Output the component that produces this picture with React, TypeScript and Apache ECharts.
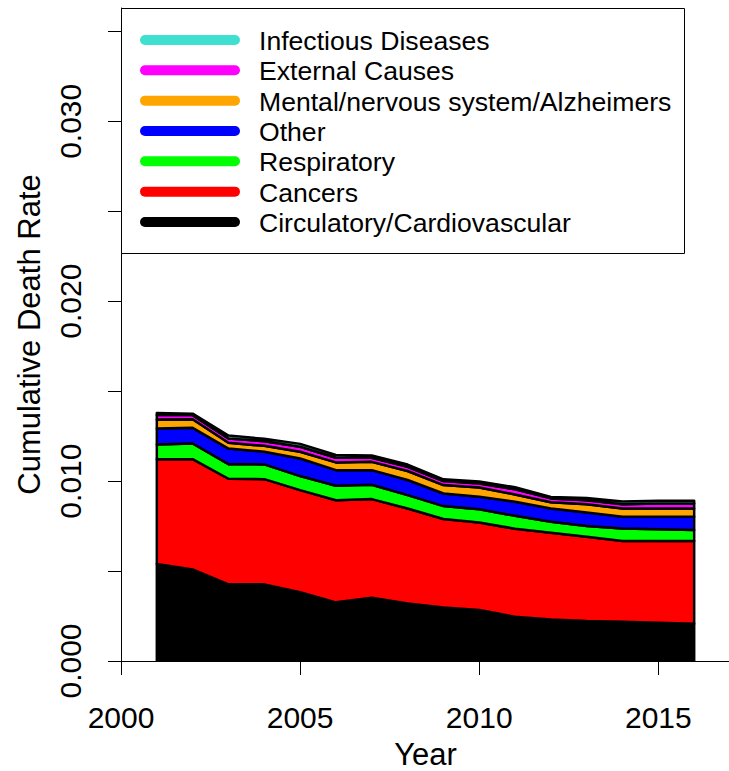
import React, { useEffect, useRef } from "react";
import * as echarts from "echarts";

const years = [2001, 2002, 2003, 2004, 2005, 2006, 2007, 2008, 2009, 2010, 2011, 2012, 2013, 2014, 2015, 2016];

// layer values, bottom to top
const circulatory = [0.00539, 0.00509, 0.00426, 0.00426, 0.00382, 0.00326, 0.00352, 0.0032, 0.00298, 0.00283, 0.00246, 0.00231, 0.00222, 0.00218, 0.00213, 0.00207];
const cancers = [0.00582, 0.00613, 0.00587, 0.00585, 0.00568, 0.00568, 0.00548, 0.00528, 0.00491, 0.00487, 0.00489, 0.00482, 0.00469, 0.00449, 0.00454, 0.0046];
const respiratory = [0.00083, 0.00087, 0.00081, 0.00082, 0.00078, 0.0008, 0.0008, 0.00074, 0.00072, 0.00073, 0.00072, 0.00061, 0.00059, 0.0007, 0.00066, 0.00061];
const other = [0.00089, 0.00087, 0.00087, 0.0007, 0.00098, 0.00087, 0.00081, 0.00084, 0.0007, 0.0007, 0.00078, 0.00074, 0.00076, 0.00065, 0.00069, 0.00074];
const mental = [0.0005, 0.00048, 0.00032, 0.00033, 0.00037, 0.00043, 0.00046, 0.0005, 0.00047, 0.00052, 0.00041, 0.00034, 0.00045, 0.00046, 0.00046, 0.00046];
const external = [0.00024, 0.00023, 0.00024, 0.00026, 0.00028, 0.00026, 0.00023, 0.00024, 0.00022, 0.00022, 0.00028, 0.00022, 0.00023, 0.00024, 0.00028, 0.00028];
const infectious = [0.00012, 0.00008, 0.00016, 0.00013, 0.00016, 0.00015, 0.00012, 0.00012, 0.0001, 0.00011, 0.00012, 0.00008, 0.00012, 0.00014, 0.00015, 0.00015];

const layerNames = [
  "Circulatory/Cardiovascular",
  "Cancers",
  "Respiratory",
  "Other",
  "Mental/nervous system/Alzheimers",
  "External Causes",
  "Infectious Diseases",
];
const layerColors = ["#000000", "#ff0000", "#00ff00", "#0000ff", "#ffa500", "#ff00ff", "#40e0d0"];
const layerValues = [circulatory, cancers, respiratory, other, mental, external, infectious];

const xTickValues = [2000, 2005, 2010, 2015];
const yTickValues = [0, 0.005, 0.01, 0.015, 0.02, 0.025, 0.03, 0.035];
const yLabelValues = [0, 0.01, 0.02, 0.03];

const FONT = "Liberation Sans, Arial, Helvetica, sans-serif";
const FS = 26.6;
const FS_AXIS = 30;
const FS_NAME = 31;

export default function App() {
  const ref = useRef<HTMLDivElement>(null);

  useEffect(() => {
    document.body.style.margin = "0";
    if (!ref.current) return;
    const chart = echarts.init(ref.current, undefined, { renderer: "svg" });

    // cumulative bounds
    const lowers: number[][] = [];
    const uppers: number[][] = [];
    let base = years.map(() => 0);
    layerValues.forEach((vals) => {
      const up = base.map((b, i) => b + vals[i]);
      lowers.push(base);
      uppers.push(up);
      base = up;
    });

    const series: any[] = layerNames.map((name, li) => ({
      type: "custom",
      name,
      clip: true,
      z: 2,
      itemStyle: { color: layerColors[li] },
      encode: { x: 0, y: 1 },
      data: [[years[0], 0]],
      renderItem: (_params: any, api: any) => {
        const pts: number[][] = [];
        years.forEach((y, i) => pts.push(api.coord([y, uppers[li][i]])));
        for (let i = years.length - 1; i >= 0; i--) pts.push(api.coord([years[i], lowers[li][i]]));
        return {
          type: "polygon",
          shape: { points: pts },
          style: { fill: layerColors[li], stroke: "#000", lineWidth: 2.5, lineJoin: "round" },
        };
      },
    }));

    // legend (top to bottom: reverse order)
    const legendOrder = layerNames.map((_, i) => layerNames.length - 1 - i);
    const legendEls: any[] = [
      {
        type: "rect",
        shape: { x: 121.5, y: 8.5, width: 563, height: 245 },
        style: { fill: "#fff", stroke: "#000", lineWidth: 1 },
        z: 10,
      },
    ];
    legendOrder.forEach((li, row) => {
      const yc = 40 + row * 30.33;
      legendEls.push({
        type: "line",
        shape: { x1: 145, y1: yc, x2: 235, y2: yc },
        style: { stroke: layerColors[li], lineWidth: 10, lineCap: "round" },
        z: 11,
      });
      legendEls.push({
        type: "text",
        x: 259,
        y: yc + 1,
        style: {
          text: layerNames[li],
          fill: "#000",
          font: `${FS}px ${FONT}`,
          verticalAlign: "middle",
          align: "left",
        },
        z: 11,
      });
    });

    chart.setOption({
      animation: false,
      backgroundColor: "#fff",
      grid: { left: 121, top: 8, width: 609, height: 653, containLabel: false, outerBoundsMode: "none" },
      xAxis: {
        type: "value",
        min: 2000,
        max: 2017,
        interval: 5,
        name: "Year",
        nameLocation: "middle",
        nameGap: 78,
        nameTextStyle: { fontFamily: FONT, fontSize: FS_NAME, color: "#000" },
        axisLine: { show: true, onZero: false, lineStyle: { color: "#000", width: 1 } },
        axisTick: { show: true, length: 14, customValues: xTickValues, lineStyle: { color: "#000", width: 1 } },
        axisLabel: {
          customValues: xTickValues,
          margin: 41,
          color: "#000",
          fontFamily: FONT,
          fontSize: FS_AXIS,
          formatter: (v: number) => String(v),
        },
        splitLine: { show: false },
      },
      yAxis: {
        type: "value",
        min: 0,
        max: 0.0363,
        interval: 0.005,
        name: "Cumulative Death Rate",
        nameLocation: "middle",
        nameGap: 76,
        nameRotate: 90,
        nameTextStyle: { fontFamily: FONT, fontSize: FS_NAME, color: "#000" },
        axisLine: { show: true, onZero: false, lineStyle: { color: "#000", width: 1 } },
        axisTick: { show: true, length: 13, customValues: yTickValues, lineStyle: { color: "#000", width: 1 } },
        axisLabel: {
          customValues: yLabelValues,
          rotate: 90,
          margin: 36,
          color: "#000",
          fontFamily: FONT,
          fontSize: FS_AXIS,
          formatter: (v: number) => v.toFixed(3),
        },
        splitLine: { show: false },
      },
      series,
      graphic: { elements: legendEls },
    });

    return () => chart.dispose();
  }, []);

  return <div ref={ref} style={{ width: 729, height: 771 }} />;
}
